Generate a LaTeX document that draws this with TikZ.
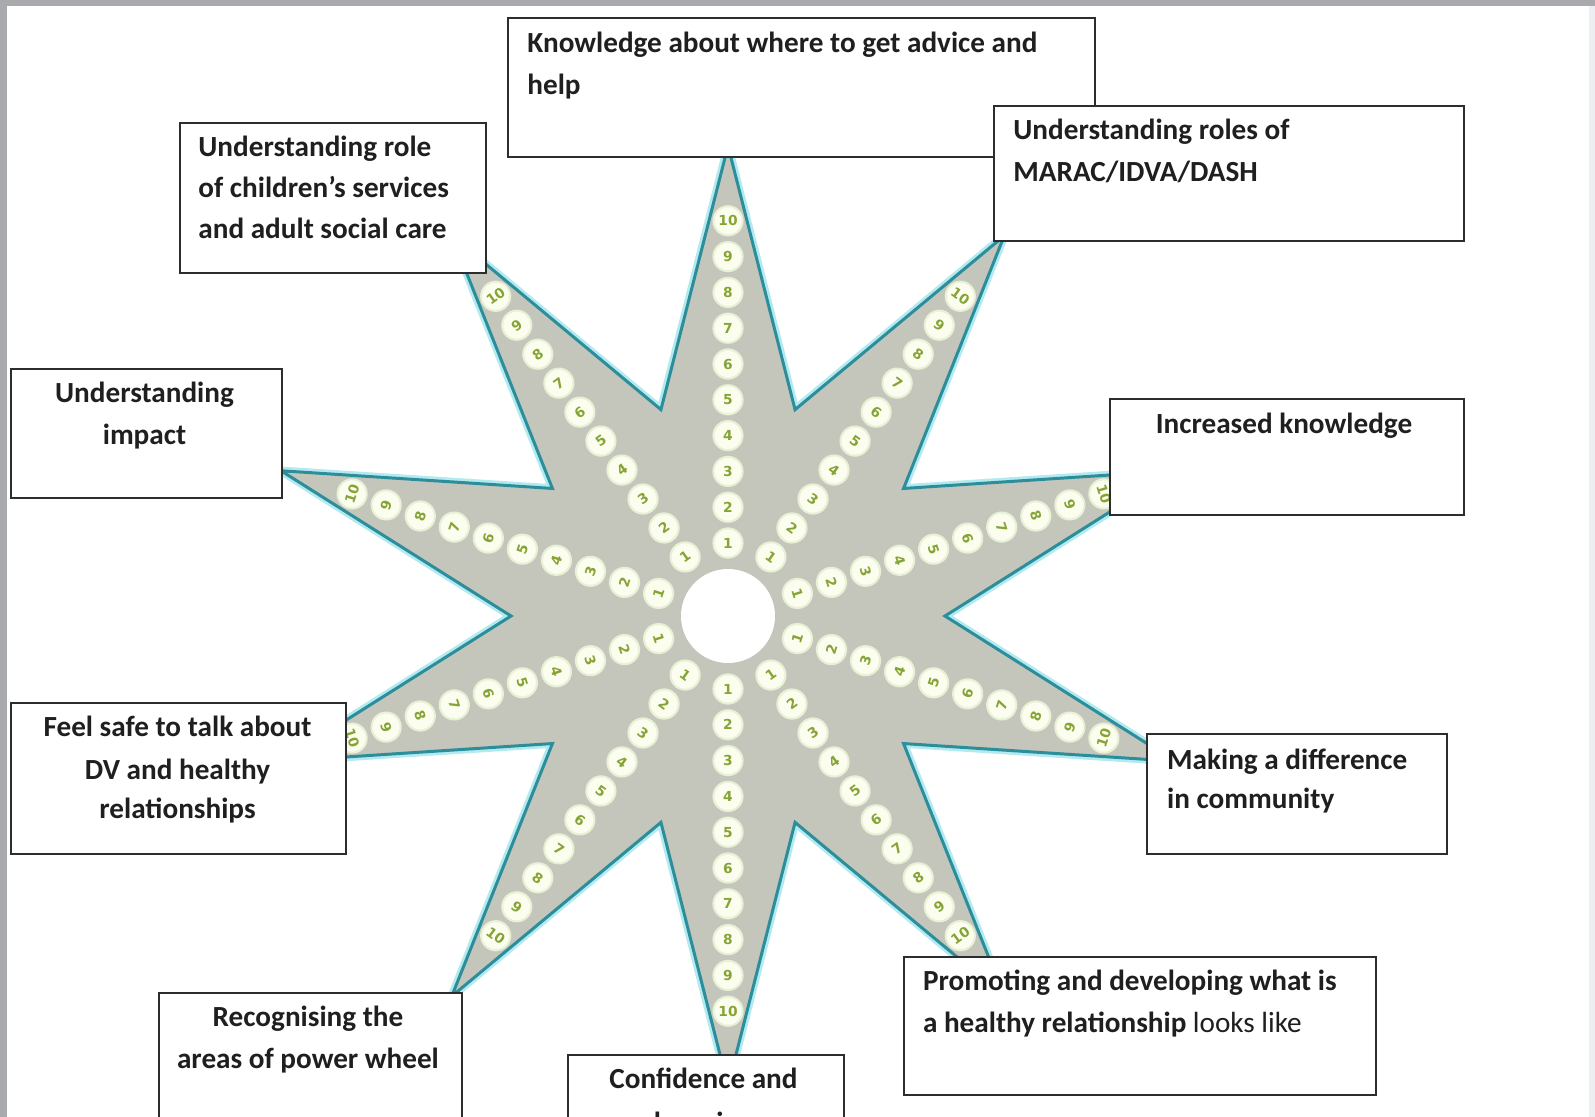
\documentclass[tikz,border=0pt]{standalone}
\usepackage{fontspec}
\setmainfont{Carlito}
\newfontfamily\numfont{DejaVu Sans}
\definecolor{starfill}{RGB}{196,198,188}
\definecolor{starline}{RGB}{44,142,154}
\definecolor{starglow}{RGB}{178,234,240}
\definecolor{dotfill}{RGB}{251,253,238}
\definecolor{dotglow}{RGB}{232,240,214}
\definecolor{numgreen}{RGB}{134,164,54}
\definecolor{pageframe}{RGB}{168,170,174}
\definecolor{pageedge}{RGB}{236,238,241}
\definecolor{boxline}{RGB}{45,45,45}
\begin{document}
\begin{tikzpicture}[x=0.5pt,y=-0.5pt,
  box/.style={draw=boxline,line width=1.2pt,fill=white,inner sep=0pt,anchor=north west},
  txt/.style={font=\fontsize{14.6}{17}\selectfont\bfseries,inner sep=0pt,text=black!88},
  dot/.style={circle,fill=dotfill,draw=dotglow,line width=1pt,minimum size=14.6pt,inner sep=0pt,
    text=numgreen,font=\numfont\fontsize{6.9}{7}\selectfont\bfseries}
]
\path[use as bounding box] (0,0) rectangle (1595,1117);
\clip (0,0) rectangle (1595,1117);
\fill[white] (0,0) rectangle (1595,1117);
% page frame
\fill[pageframe] (0,0) rectangle (1595,6);
\fill[pageframe] (0,0) rectangle (7,1117);
\fill[pageedge] (1589,6) rectangle (1595,1117);

% star
\begin{scope}[shift={(728,616)}]
  \draw[starglow,line width=4.2pt,line join=miter]
    (90:470) \foreach \k in {1,...,10} { -- ({108-36*\k}:217) -- ({90-36*\k}:470) } -- cycle;
  \draw[fill=starfill,draw=starline,line width=1.5pt,line join=miter]
    (90:470) \foreach \k in {1,...,10} { -- ({108-36*\k}:217) -- ({90-36*\k}:470) } -- cycle;
  \foreach \t/\r [count=\a] in {90/0,54/-36,18/-72,-18/72,-54/36,-90/0,-126/-36,-162/-72,162/72,126/36}{
    \foreach \j in {1,...,10}{
      \node[dot,rotate=\r] (d\a-\j) at ({-\t}:{73+35.8*(\j-1)}) {\j};
    }
  }
  \node[circle,fill=white,minimum size=47pt,inner sep=0pt] (hub) at (0,0) {};
\end{scope}

% boxes
\node[box,minimum width=293.5pt,minimum height=69.5pt] (b1) at (507,17) {};
\node[box,minimum width=235pt,minimum height=67.5pt] (b2) at (993,105) {};
\node[box,minimum width=153pt,minimum height=75pt] (b3) at (179,122) {};
\node[box,minimum width=135.5pt,minimum height=64.5pt] (b4) at (10,368) {};
\node[box,minimum width=177pt,minimum height=58pt] (b5) at (1109,398) {};
\node[box,minimum width=167.5pt,minimum height=75.5pt] (b6) at (10,702) {};
\node[box,minimum width=150pt,minimum height=60pt] (b7) at (1146,733) {};
\node[box,minimum width=151.5pt,minimum height=80pt] (b8) at (158,992) {};
\node[box,minimum width=138pt,minimum height=60pt] (b9) at (567,1054) {};
\node[box,minimum width=236pt,minimum height=69pt] (b10) at (903,956) {};

% texts
\node[txt,anchor=base west] (t1a) at (527,52.7) {Knowledge about where to get advice and};
\node[txt,anchor=base west] (t1b) at (527,94.4) {help};
\node[txt,anchor=base west] (t2a) at (1013,140) {Understanding roles of};
\node[txt,anchor=base west] (t2b) at (1013,182) {MARAC/IDVA/DASH};
\node[txt,anchor=base west] (t3a) at (198,156.5) {Understanding role};
\node[txt,anchor=base west] (t3b) at (198,198) {of children’s services};
\node[txt,anchor=base west] (t3c) at (198,239) {and adult social care};
\node[txt,anchor=base] (t4a) at (144.5,402.7) {Understanding};
\node[txt,anchor=base] (t4b) at (144.5,444.4) {impact};
\node[txt,anchor=base] (t5a) at (1284,434) {Increased knowledge};
\node[txt,anchor=base] (t6a) at (177.5,736) {Feel safe to talk about};
\node[txt,anchor=base] (t6b) at (177.5,779) {DV and healthy};
\node[txt,anchor=base] (t6c) at (177.5,818.7) {relationships};
\node[txt,anchor=base west] (t7a) at (1166.7,769) {Making a difference};
\node[txt,anchor=base west] (t7b) at (1166.7,808.5) {in community};
\node[txt,anchor=base] (t8a) at (308,1026) {Recognising the};
\node[txt,anchor=base] (t8b) at (308,1068) {areas of power wheel};
\node[txt,anchor=base] (t9a) at (703.5,1088) {Confidence and};
\node[txt,anchor=base] (t9b) at (703.5,1132) {learning};
\node[txt,anchor=base west] (t10a) at (922.6,990.6) {Promoting and developing what is};
\node[txt,anchor=base west] (t10b) at (922.6,1032.3) {a healthy relationship \mdseries looks like};
\end{tikzpicture}
\end{document}
